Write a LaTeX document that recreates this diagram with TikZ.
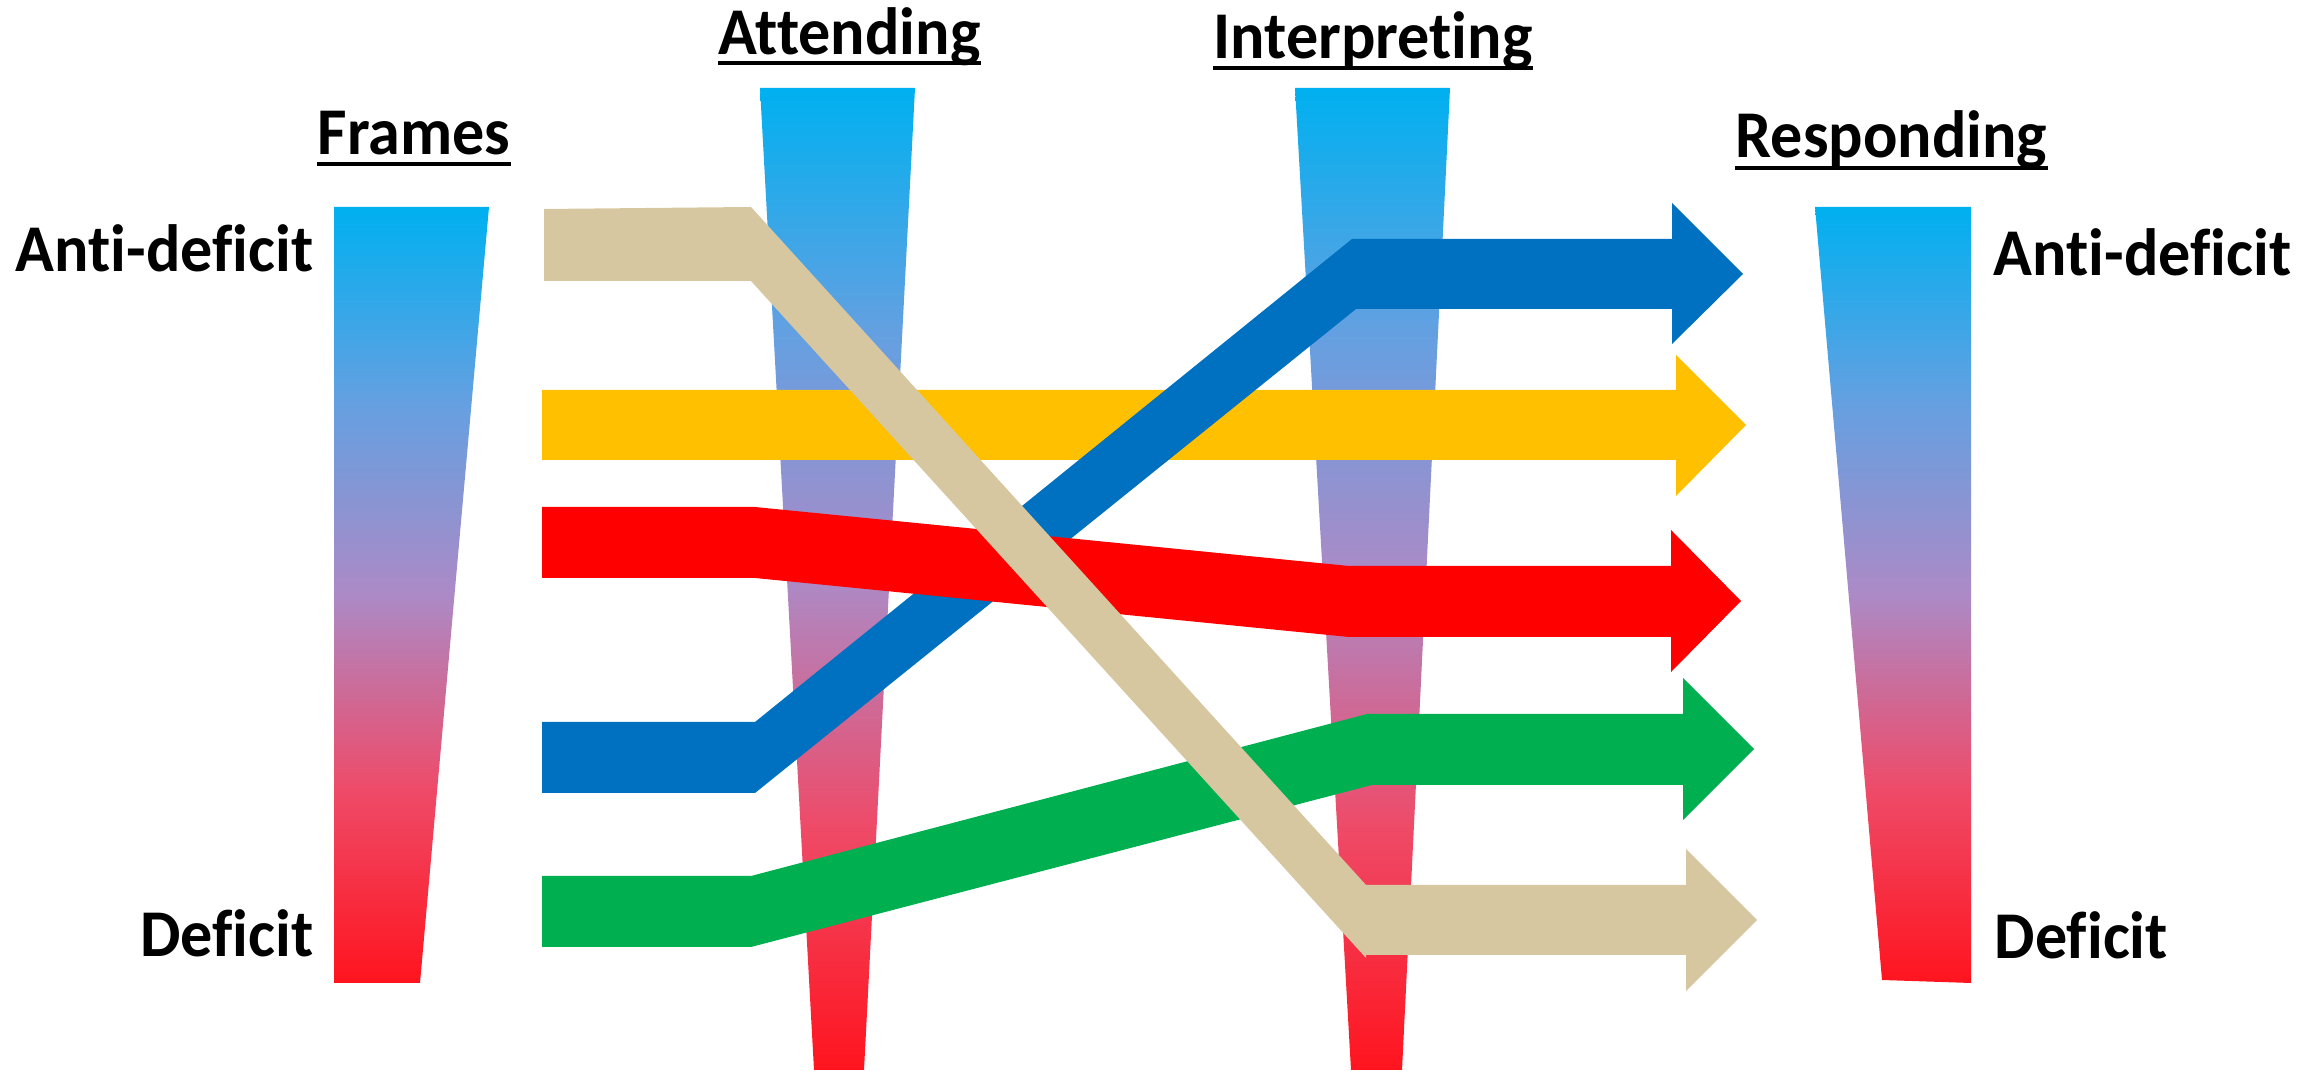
\documentclass[tikz,border=0pt]{standalone}
\usepackage{fontspec}
\setmainfont{Carlito}[Ligatures=NoCommon,FakeStretch=0.96]
\newcommand\headfont{\fontsize{19}{22}\selectfont\bfseries}
\definecolor{barcyan}{RGB}{0,176,240}
\definecolor{barsky}{RGB}{100,160,225}
\definecolor{barlilac}{RGB}{172,138,198}
\definecolor{barpink}{RGB}{238,75,105}
\definecolor{barred}{RGB}{255,20,30}
\definecolor{flowyellow}{RGB}{255,192,0}
\definecolor{flowblue}{RGB}{0,112,192}
\definecolor{flowred}{RGB}{255,0,0}
\definecolor{flowgreen}{RGB}{0,176,80}
\definecolor{flowtan}{RGB}{214,199,160}
\pgfdeclareverticalshading{scalebar}{100bp}{color(0bp)=(barred); color(25bp)=(barred); color(37.5bp)=(barpink); color(50bp)=(barlilac); color(62.5bp)=(barsky); color(75bp)=(barcyan); color(100bp)=(barcyan)}
\tikzset{
  heading/.style={font=\headfont, inner sep=0pt, anchor=base west},
  endlabel/.style={font=\headfont, inner sep=0pt},
  underbar/.style={line width=1.15pt},
  scale bar/.style={shading=scalebar},
}
\begin{document}
\begin{tikzpicture}[x=0.01cm,y=-0.01cm]
        \useasboundingbox (0,0) rectangle (2321,1071);
        % the four scales
        \shade[scale bar] (334,207) -- (489,207) -- (420,983) -- (334,983) -- cycle;
        \shade[scale bar] (760,88) -- (915,88) -- (864,1070) -- (814,1070) -- cycle;
        \shade[scale bar] (1295,88) -- (1450,88) -- (1402,1070) -- (1351,1070) -- cycle;
        \shade[scale bar] (1815,207) -- (1971,207) -- (1971,983) -- (1882,980) -- cycle;
        % headings
        \node[heading] (frames) at (317,155) {Frames};
        \node[heading] (attending) at (718,55) {Attending};
        \node[heading] (interpreting) at (1213,59) {Interpreting};
        \node[heading] (responding) at (1735,158) {Responding};
        \draw[underbar] ([yshift=-2.6pt]frames.base west) -- ([yshift=-2.6pt]frames.base east);
        \draw[underbar] ([yshift=-2.4pt]attending.base west) -- ([yshift=-2.4pt]attending.base east);
        \draw[underbar] ([yshift=-2.6pt]interpreting.base west) -- ([yshift=-2.6pt]interpreting.base east);
        \draw[underbar] ([yshift=-2.8pt]responding.base west) -- ([yshift=-2.8pt]responding.base east);
        \node[endlabel, anchor=base east] (antileft) at (314,272) {Anti-deficit};
        \node[endlabel, anchor=base east] (defleft) at (314,957) {Deficit};
        \node[endlabel, anchor=base west] (antiright) at (1993,276) {Anti-deficit};
        \node[endlabel, anchor=base west] (defright) at (1994,959) {Deficit};
        % paths
        \fill[flowyellow] (542,390) -- (1676,390) -- (1676,355) -- (1746,425) -- (1676,496) -- (1676,460) -- (542,460) -- cycle;
        \fill[flowblue] (542,722) -- (755,722) -- (1352,239) -- (1672,239) -- (1672,203) -- (1743,274) -- (1672,344) -- (1672,309) -- (1356,309) -- (755,793) -- (542,793) -- cycle;
        \fill[flowred] (542,507) -- (755,507) -- (1349,566) -- (1671,566) -- (1671,530) -- (1741,601) -- (1671,672) -- (1671,637) -- (1349,637) -- (755,578) -- (542,578) -- cycle;
        \fill[flowgreen] (542,876) -- (751,876) -- (1367,714) -- (1683,714) -- (1683,678) -- (1754,749) -- (1683,820) -- (1683,785) -- (1372,785) -- (751,947) -- (542,947) -- cycle;
        \fill[flowtan] (544,209) -- (751,207) -- (1366,885) -- (1366,958) -- (751,281) -- (544,281) -- cycle;
        \fill[flowtan] (1366,885) -- (1686,885) -- (1686,849) -- (1757,920) -- (1686,991) -- (1686,955) -- (1366,955) -- cycle;
\end{tikzpicture}
\end{document}
